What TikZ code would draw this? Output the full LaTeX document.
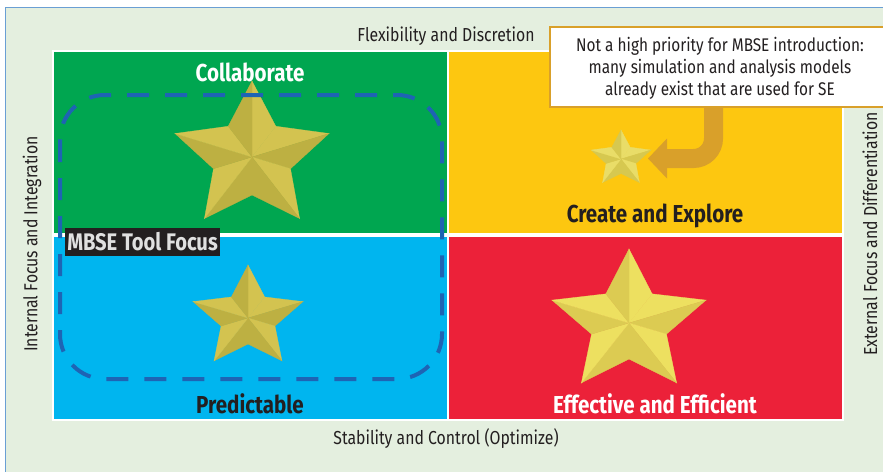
\documentclass[tikz,border=0pt]{standalone}
\usepackage{fontspec}
\setmainfont{Fira Sans}[FakeStretch=0.84]
\definecolor{bgc}{HTML}{E4EFDF}
\definecolor{framec}{HTML}{6A9FD4}
\definecolor{qgreen}{HTML}{00A650}
\definecolor{qyellow}{HTML}{FDC710}
\definecolor{qblue}{HTML}{00B5EF}
\definecolor{qred}{HTML}{EC2139}
\definecolor{dashc}{HTML}{1E64B4}
\definecolor{txt}{HTML}{231F20}
\definecolor{orangec}{HTML}{D9A02A}
\definecolor{sgL}{HTML}{D3C350}
\definecolor{sgD}{HTML}{BDB042}
\definecolor{srL}{HTML}{EDE060}
\definecolor{srD}{HTML}{DCCB52}
\definecolor{syL}{HTML}{E9DD68}
\definecolor{syD}{HTML}{D6C850}
\newcommand\drawstar[7]{%
  \foreach \k/\c in {0/#6,1/#6,2/#7,3/#6,4/#7,5/#7,6/#6,7/#7,8/#6,9/#7}{%
    \pgfmathsetmacro\aa{90-36*\k}%
    \pgfmathsetmacro\ab{90-36*(\k+1)}%
    \pgfmathsetmacro\ra{mod(\k,2)==0 ? #3 : #4}%
    \pgfmathsetmacro\rb{mod(\k,2)==0 ? #4 : #3}%
    \fill[\c, draw=\c, line width=0.3pt] (#1,#2) -- ({#1+#5*\ra*cos(\aa)},{#2-\ra*sin(\aa)}) -- ({#1+#5*\rb*cos(\ab)},{#2-\rb*sin(\ab)}) -- cycle;
  }}
\tikzset{
  axislabel/.style={text=txt, font=\fontsize{18.8}{20}\selectfont, inner sep=0pt},
  quadlabel/.style={font=\fontsize{24.5}{26}\selectfont\bfseries, inner sep=0pt},
  calltext/.style={text=txt, font=\fontsize{18.3}{22}\selectfont, align=center, inner sep=0pt},
}
\begin{document}
\begin{tikzpicture}[x=1pt,y=-1pt]
\useasboundingbox (0,0) rectangle (883,471);
\clip (0,0) rectangle (883,471);
\fill[white] (0,0) rectangle (883,471);
\fill[bgc] (5.5,7.5) rectangle (900,490);
\draw[framec, line width=1.5pt] (900,7.5) -- (5.5,7.5) -- (5.5,490);
% quadrants
\fill[white] (51.5,49.5) rectangle (843.5,421);
\fill[qgreen] (53.5,51.5) rectangle (446.5,233);
\fill[qyellow] (449,51.5) rectangle (841.5,233);
\fill[qblue] (53.5,237) rectangle (446.5,419);
\fill[qred] (449,237) rectangle (841.5,419);
% stars
\drawstar{252}{157}{76}{38}{1.065}{sgL}{sgD}
\drawstar{248}{318}{53}{26}{1.09}{sgL}{sgD}
\drawstar{629}{323}{74}{36}{1.094}{srL}{srD}
\drawstar{621}{159}{29}{14.5}{1.08}{syL}{syD}
% dashed focus region
\draw[dashc, line width=4pt, dash pattern=on 22pt off 16pt, rounded corners=45pt] (60,95) rectangle (442,379);
% quadrant labels
\node[quadlabel, text=white] (collab) at (250,72) {Collaborate};
\node[quadlabel, text=txt] (create) at (655,216) {Create and Explore};
\node[quadlabel, text=txt] (pred) at (250,404) {Predictable};
\node[quadlabel, text=white] (effect) at (655,404) {Effective and Efficient};
% MBSE tool focus label
\node[fill=txt, text=black!12, font=\fontsize{24}{26}\selectfont\bfseries, minimum width=155pt, minimum height=28pt, inner sep=0pt] (mbse) at (142.5,242) {MBSE Tool Focus};
% axis labels
\node[axislabel] (flex) at (446,36) {Flexibility and Discretion};
\node[axislabel] (stab) at (446,439) {Stability and Control (Optimize)};
\node[axislabel, rotate=90] (internal) at (32,244) {Internal Focus and Integration};
\node[axislabel, rotate=90] (external) at (870,234) {External Focus and Differentiation};
% callout arrow
\coordinate (astart) at (713.5,100);
\coordinate (aend) at (667,158.5);
\draw[orangec, line width=19pt, rounded corners=20pt] (astart) |- (aend);
\fill[orangec] (aend) ++(0,-20) -- ++(0,40) -- ++(-19,-20) -- cycle;
% callout box
\fill[white, draw=orangec, line width=2pt] (550,27) rectangle (895,107);
\node[calltext] (callout) at (720,68) {Not a high priority for MBSE introduction:\\many simulation and analysis models\\already exist that are used for SE};
\end{tikzpicture}
\end{document}
